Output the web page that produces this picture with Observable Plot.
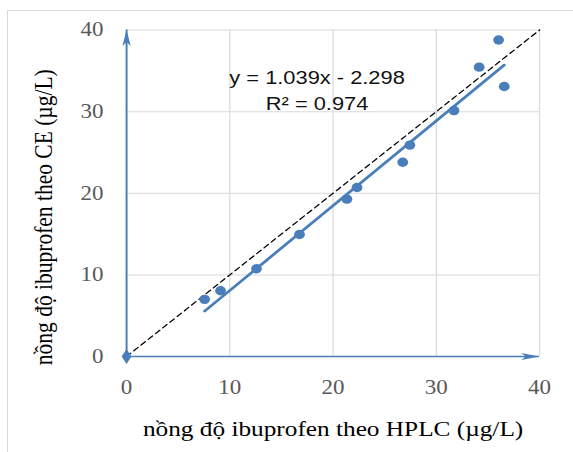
<!DOCTYPE html>
<html>
<head>
<meta charset="utf-8">
<script src="https://cdn.jsdelivr.net/npm/d3@7"></script>
<script src="https://cdn.jsdelivr.net/npm/@observablehq/plot@0.6"></script>
<style>
  html, body { margin: 0; padding: 0; background: #fff; }
  #wrap { position: relative; width: 573px; height: 452px; overflow: hidden; }
  #frame { position: absolute; left: 7px; top: 10px; width: 600px; height: 480px; border: 1px solid #d9d9d9; pointer-events: none; }
</style>
</head>
<body>
<div id="wrap"><div id="frame"></div></div>
<script>
// Data
const hplc = [7.56, 9.10, 12.58, 16.75, 21.34, 22.32, 26.75, 27.44, 31.71, 34.15, 36.03, 36.58];
const ce   = [7.00, 8.05, 10.75, 14.95, 19.28, 20.70, 23.80, 25.90, 30.13, 35.45, 38.78, 33.08];
const xTicks = [0, 10, 20, 30, 40];
const yTicks = [0, 10, 20, 30, 40];
const slope = 1.039;
const intercept = -2.298;
const equationLines = ["y = 1.039x - 2.298", "R² = 0.974"];
const equationAnchor = [{x: 18.45, y: 30.2}];
const xTitle = "nồng độ ibuprofen theo HPLC (µg/L)";
const yTitle = "nồng độ ibuprofen theo CE (µg/L)";

const points = hplc.map((x, i) => ({x, y: ce[i]}));
const [xmin, xmax] = d3.extent(hplc);
const fitLine = [xmin, xmax].map(x => ({x, y: slope * x + intercept}));
const identity = [{x: 0, y: 0}, {x: 40, y: 40}];

const blue = "#4a7ebb";
const stealth = {
  draw(context) {
    context.moveTo(0, 0);
    context.lineTo(3.6, 16);
    context.lineTo(0, 12);
    context.lineTo(-3.6, 16);
    context.closePath();
  }
};

const S = 1.15;            // horizontal stretch of the reference picture
const W = 573 / S;

const chart = Plot.plot({
  width: W,
  height: 452,
  marginLeft: 126 / S,
  marginRight: 34 / S,
  marginTop: 29.5,
  marginBottom: 96,
  x: {domain: [0, 40]},
  y: {domain: [0, 40]},
  style: {fontFamily: "'Liberation Serif', 'Times New Roman', serif", background: "transparent"},
  marks: [
    Plot.gridX(xTicks, {stroke: "#d9d9d9", strokeOpacity: 1, strokeWidth: 1}),
    Plot.gridY(yTicks, {stroke: "#d9d9d9", strokeOpacity: 1, strokeWidth: 1}),
    Plot.axisX(xTicks, {tickSize: 0, tickPadding: 23, fontSize: 20, color: "#595959", label: null, tickFormat: d => String(d)}),
    Plot.axisY(yTicks, {tickSize: 0, tickPadding: 20, fontSize: 20, color: "#595959", label: null, tickFormat: d => String(d)}),
    Plot.line(identity, {x: "x", y: "y", stroke: "#000", strokeWidth: 1.2, strokeDasharray: "5,3.5"}),
    Plot.ruleX([0], {y1: 0, y2: 40, stroke: blue, strokeWidth: 1.7}),
    Plot.ruleY([0], {x1: 0, x2: 40, stroke: blue, strokeWidth: 1.7}),
    Plot.dot([{x: 0, y: 40}], {x: "x", y: "y", symbol: stealth, fill: blue, stroke: "none"}),
    Plot.dot([{x: 40, y: 0}], {x: "x", y: "y", symbol: stealth, fill: blue, stroke: "none", rotate: 90}),
    Plot.line(fitLine, {x: "x", y: "y", stroke: blue, strokeWidth: 2.6}),
    Plot.dot(points, {x: "x", y: "y", r: 4.7, fill: blue, stroke: "none"}),
    Plot.dot([{x: 0, y: 0}], {x: "x", y: "y", symbol: "diamond", r: 4.5, fill: blue, stroke: "none"}),
    Plot.text(equationAnchor, {x: "x", y: "y", text: () => equationLines.join("\n"), textAnchor: "middle", lineAnchor: "bottom", lineHeight: 1.37, fontSize: 19, fontFamily: "'Liberation Sans', Arial, sans-serif", fill: "#111"}),
    Plot.text([xTitle], {text: d => d, frameAnchor: "bottom", dy: 79, lineAnchor: "bottom", textAnchor: "middle", fontSize: 22, fill: "#000"}),
    Plot.text([yTitle], {text: d => d, frameAnchor: "left", dx: 45 - 126 / S, dy: 24, rotate: -90, lineAnchor: "bottom", textAnchor: "middle", fontSize: 21.5, fill: "#000"})
  ]
});

chart.setAttribute("width", 573);
chart.setAttribute("height", 452);
chart.setAttribute("preserveAspectRatio", "none");
chart.style.width = "573px";
chart.style.height = "452px";
chart.style.maxWidth = "none";
chart.style.display = "block";
document.getElementById("wrap").insertBefore(chart, document.getElementById("frame"));
</script>
</body>
</html>
